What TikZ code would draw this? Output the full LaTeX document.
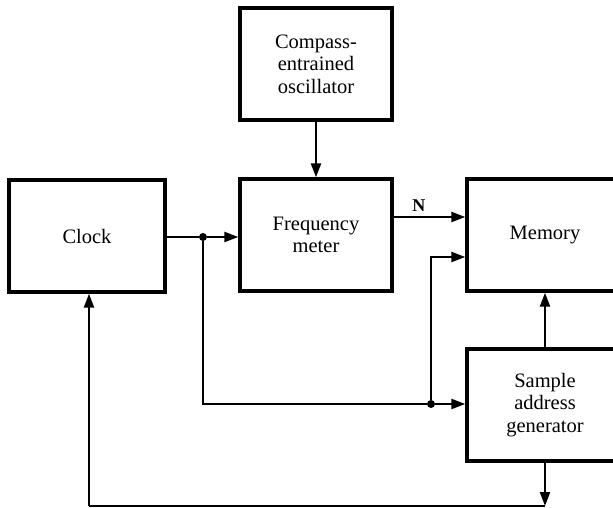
\documentclass[tikz,border=0pt]{standalone}
\usepackage{fontspec}
\setmainfont{Liberation Serif}
\usetikzlibrary{arrows.meta}
\begin{document}
\begin{tikzpicture}[x=1pt,y=-1pt,
  blk/.style={draw,line width=3.4pt,minimum width=152pt,minimum height=112pt,align=center,inner sep=0pt,font=\fontsize{20.5}{22.5}\selectfont},
  conn/.style={line width=2.3pt},
  arr/.style={conn,-{Triangle[length=14pt,width=10pt]}},
  jdot/.style={circle,fill,inner sep=0pt,minimum size=8pt}]
\useasboundingbox (0,0) rectangle (613,508);
\clip (0,0) rectangle (613,508);
\node[blk] (comp) at (316,64) {Compass-\\entrained\\oscillator};
\node[blk] (freq) at (316,235) {Frequency\\meter};
\node[blk,minimum width=156pt] (clock) at (87,236) {Clock};
\node[blk,minimum width=156pt] (mem) at (545,235) {Memory};
\node[blk,minimum width=156pt] (sag) at (545,405) {Sample\\address\\generator};
\node[jdot] (j1) at (203,237) {};
\node[jdot] (j2) at (431,404) {};
\coordinate (b1) at (545,506);
\coordinate (b2) at (89,506);
\draw[arr] (comp.south) -- (freq.north);
\draw[conn] (clock.east |- j1) -- (j1);
\draw[arr] (j1) -- (freq.west |- j1);
\draw[arr] (freq.east |- 0,217) -- node[above=1pt,font=\fontsize{18}{20}\selectfont\bfseries,pos=0.35] {N} (mem.west |- 0,217);
\draw[conn] (j1) |- (j2);
\draw[arr] (j2) -- (sag.west |- j2);
\draw[arr] (j2) |- (mem.west |- 0,257);
\draw[arr] (sag.north) -- (mem.south);
\draw[arr] (sag.south) -- (b1);
\draw[conn] (b1) -- (b2);
\draw[arr] (b2) -- (b2 |- clock.south);
\end{tikzpicture}
\end{document}
